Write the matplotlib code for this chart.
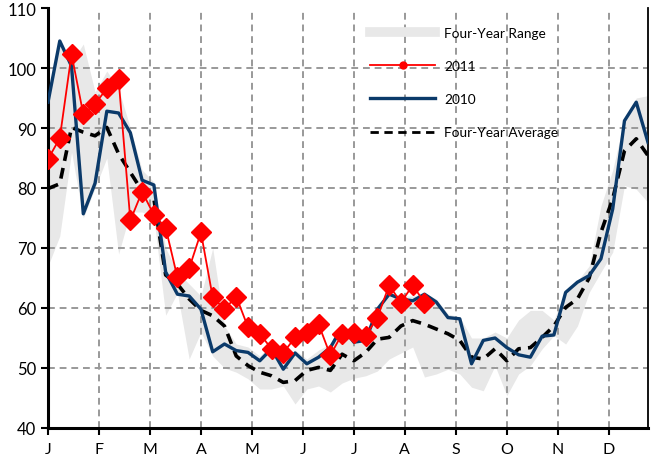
import numpy as np
import matplotlib
matplotlib.use("Agg")
import matplotlib.pyplot as plt
from matplotlib.lines import Line2D

plt.rcParams['font.family'] = ['Lato', 'DejaVu Sans']

weeks = np.arange(52)

y2011 = [84.8, 88.3, 102.3, 92.3, 94.0, 96.6, 98.1, 74.6, 79.4, 75.5, 73.4, 65.1,
         66.6, 72.6, 61.8, 59.8, 61.9, 56.8, 55.7, 53.2, 52.5, 55.1, 55.9, 57.3,
         52.1, 55.7, 55.9, 55.4, 58.4, 63.8, 60.9, 63.8, 60.9]

y2010 = [94.3, 104.5, 100.3, 75.7, 80.8, 92.8, 92.5, 89.2, 81.3, 80.5, 66.0, 62.3,
         62.0, 59.8, 52.7, 54.0, 52.9, 52.6, 51.2, 53.2, 49.8, 52.5, 50.7, 51.8,
         53.4, 56.8, 54.3, 54.6, 59.8, 62.3, 61.5, 61.2, 62.3, 61.0, 58.4, 58.2,
         50.7, 54.6, 55.0, 53.4, 52.2, 51.8, 55.3, 55.5, 62.6, 64.3, 65.4, 68.2,
         76.5, 91.2, 94.3, 87.6]

avg = [79.9, 80.7, 90.1, 89.3, 88.7, 90.1, 85.7, 82.6, 79.5, 78.2, 65.5, 64.0,
       61.5, 59.6, 58.7, 57.0, 52.0, 50.4, 49.3, 48.7, 47.6, 47.9, 49.6, 50.1,
       49.6, 52.3, 51.2, 52.6, 54.8, 55.1, 57.0, 57.9, 57.3, 56.5, 55.7, 54.6,
       51.8, 51.5, 53.2, 51.2, 53.2, 53.4, 55.1, 57.0, 60.1, 61.5, 65.0, 72.6,
       78.2, 86.2, 88.2, 85.4]

range_low = [67, 72, 86, 75, 80, 85, 69, 76, 76, 75, 58.8, 62.5, 51.5, 56, 52, 50,
             49.3, 48.2, 46.5, 46.5, 47, 44, 46.5, 47, 46, 47.5, 48.3, 48.7, 49.5,
             51.5, 52.5, 53.5, 48.5, 49, 49.8, 49, 46.8, 46.2, 50.4, 45.4, 49,
             50.4, 53.2, 55.4, 54, 57, 62.6, 66, 69.3, 80.4, 79.8, 77.6]

range_high = [94.5, 104.7, 101, 104, 96, 99.5, 96.5, 90, 83, 81, 70, 66, 64, 62,
              70, 57, 54, 53.5, 52, 54, 51, 53, 51.5, 53, 54, 57.5, 55, 56, 60,
              62.5, 62, 62, 62.5, 61.5, 59, 58.5, 55, 55, 56, 55, 58, 59.6, 59.6,
              58, 63, 64.5, 67, 77, 83, 91.5, 95, 95.4]

month_labels = ['J', 'F', 'M', 'A', 'M', 'J', 'J', 'A', 'S', 'O', 'N', 'D']
month_pos = [k * 52 / 12 for k in range(12)]

fig = plt.figure(figsize=(6.52, 4.60), dpi=100)
ax = fig.add_axes([48/652, 31/460, 600/652, 420/460])

ax.fill_between(weeks, range_low, range_high, color='#e8e8e8', lw=0, zorder=1)

grid_kw = dict(color='#999999', lw=1.4, ls=(0, (3.5, 2.5)), zorder=1.5)
for yv in range(50, 110, 10):
    ax.axhline(yv, **grid_kw)
for xv in month_pos[1:]:
    ax.axvline(xv, **grid_kw)

ax.plot(weeks, avg, color='black', lw=2.6, ls=(0, (3, 2)), zorder=3)
ax.plot(weeks, y2010, color='#0b3a6a', lw=2.4, zorder=4)
ax.plot(weeks[:len(y2011)], y2011, color='#ff0000', lw=1.3, marker='D',
        ms=10, mfc='#ff0000', mec='#ff0000', zorder=5)

ax.set_xlim(0, 51)
ax.set_ylim(40, 110)
ax.set_yticks(range(40, 111, 10))
ax.set_xticks(month_pos)
ax.set_xticklabels(month_labels)
ax.tick_params(axis='both', direction='out', length=5, width=1.5, color='black',
               labelsize=12)
ax.tick_params(axis='x', pad=5, labelsize=11.5)

for s in ['left', 'bottom']:
    ax.spines[s].set_linewidth(2.2)
ax.spines['right'].set_linewidth(1.3)
ax.spines['top'].set_visible(False)

handles = [
    Line2D([0], [0], color='#e8e8e8', lw=7),
    Line2D([0], [0], color='#ff0000', lw=1.3, marker='o', ms=5),
    Line2D([0], [0], color='#0b3a6a', lw=2.4),
    Line2D([0], [0], color='black', lw=2, ls=(0, (3, 2))),
]
labels = ['Four-Year Range', '2011', '2010', 'Four-Year Average']
leg = ax.legend(handles, labels, loc='upper left',
                bbox_to_anchor=(322/600, 1 - 19/420), frameon=False,
                fontsize=9.8, handlelength=4.8, handletextpad=0.65,
                labelspacing=1.55, numpoints=1, borderpad=0, borderaxespad=0)

fig.savefig('out.png', dpi=100)
